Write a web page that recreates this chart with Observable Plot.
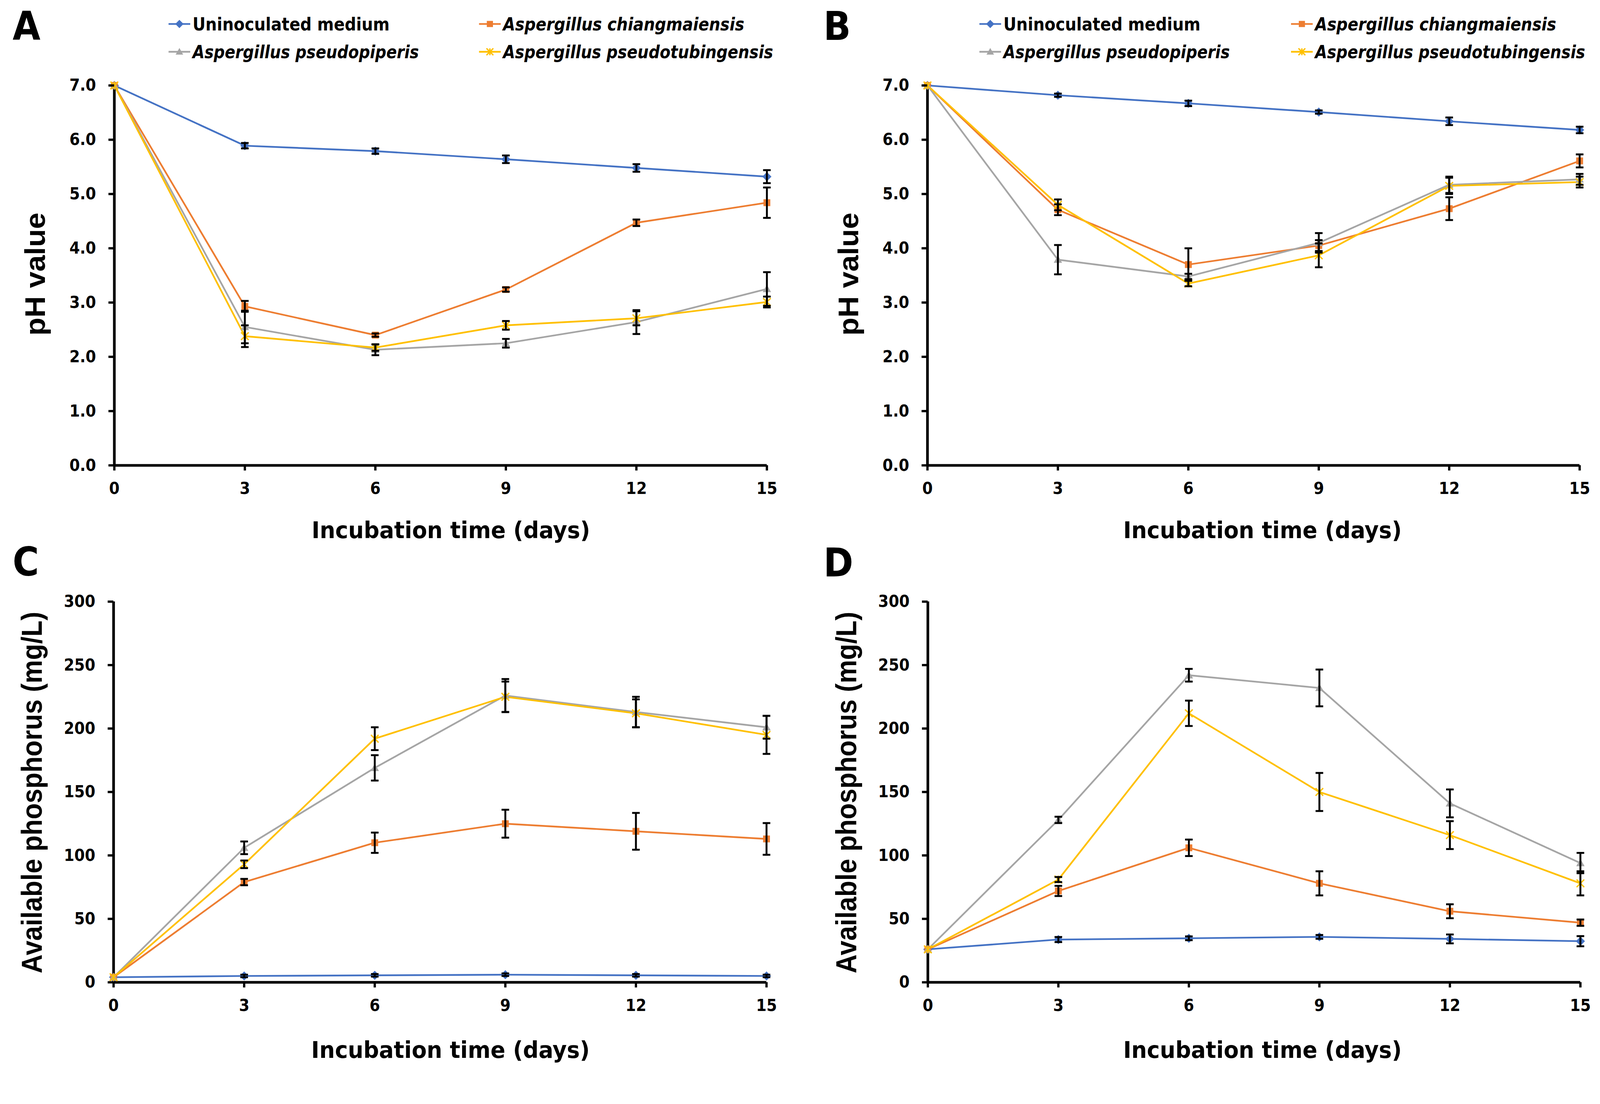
<!DOCTYPE html>
<html><head><meta charset="utf-8">
<script src="https://cdn.jsdelivr.net/npm/d3@7"></script>
<script src="https://cdn.jsdelivr.net/npm/@observablehq/plot@0.6"></script>
<style>
html,body{margin:0;padding:0;background:#fff;overflow:hidden;}
#fig{position:relative;width:4205px;height:2825px;overflow:hidden;background:#fff;transform-origin:0 0;}
.panel{position:absolute;}
#overlay{position:absolute;left:0;top:0;pointer-events:none;}
</style></head><body><div id="fig"></div>
<script>
// ---------- data ----------
const days = [0, 3, 6, 9, 12, 15];
const seriesNames = ["Uninoculated medium", "Aspergillus chiangmaiensis", "Aspergillus pseudopiperis", "Aspergillus pseudotubingensis"];
const seriesColors = ["#4472C4", "#ED7D31", "#A5A5A5", "#FFC000"];
const phTicks = [0, 1, 2, 3, 4, 5, 6, 7];
const pTicks = [0, 50, 100, 150, 200, 250, 300];
const xLabel = "Incubation time (days)";
const yLabelPH = "pH value";
const yLabelP = "Available phosphorus (mg/L)";

// Panel A: pH
const aUnin = [7.0, 5.89, 5.79, 5.64, 5.48, 5.32];
const aUninErr = [0, 0.05, 0.05, 0.07, 0.07, 0.12];
const aChiang = [7.0, 2.93, 2.40, 3.24, 4.47, 4.84];
const aChiangErr = [0, 0.10, 0.03, 0.04, 0.06, 0.28];
const aPiper = [7.0, 2.55, 2.13, 2.25, 2.64, 3.25];
const aPiperErr = [0, 0.30, 0.10, 0.08, 0.22, 0.31];
const aTubing = [7.0, 2.38, 2.17, 2.58, 2.71, 3.01];
const aTubingErr = [0, 0.20, 0.06, 0.08, 0.13, 0.10];

// Panel B: pH
const bUnin = [7.0, 6.82, 6.67, 6.51, 6.34, 6.18];
const bUninErr = [0, 0.03, 0.05, 0.03, 0.07, 0.06];
const bChiang = [7.0, 4.71, 3.70, 4.05, 4.73, 5.61];
const bChiangErr = [0, 0.10, 0.30, 0.10, 0.21, 0.12];
const bPiper = [7.0, 3.79, 3.48, 4.10, 5.17, 5.27];
const bPiperErr = [0, 0.27, 0.05, 0.18, 0.15, 0.10];
const bTubing = [7.0, 4.80, 3.35, 3.87, 5.15, 5.22];
const bTubingErr = [0, 0.10, 0.05, 0.22, 0.15, 0.10];

// Panel C: available phosphorus
const cUnin = [4, 5, 5.5, 6, 5.5, 5];
const cUninErr = [0, 1, 1, 1, 1, 1];
const cChiang = [4, 79, 110, 125, 119, 113];
const cChiangErr = [0, 2.5, 8, 11, 14.5, 12.5];
const cPiper = [4, 106, 169, 226, 213, 201];
const cPiperErr = [0, 5, 10, 13, 12, 9];
const cTubing = [4, 93, 192, 225, 212, 195];
const cTubingErr = [0, 3, 9, 12, 11, 15];

// Panel D: available phosphorus
const dUnin = [26, 33.7, 34.7, 35.8, 34.2, 32.4];
const dUninErr = [0, 2, 1.5, 1.5, 3.5, 4];
const dChiang = [26, 72, 106, 78, 56, 47];
const dChiangErr = [0, 4, 6.5, 9.5, 5.5, 2.5];
const dPiper = [26, 128, 242, 232, 141, 94];
const dPiperErr = [0, 2.5, 5, 14.5, 11, 8];
const dTubing = [26, 81, 212, 150, 116, 78];
const dTubingErr = [0, 2, 10, 15, 11, 9.5];

// ---------- styling ----------
const condFont = '"DejaVu Sans Condensed", "Liberation Sans Narrow", "DejaVu Sans", sans-serif';
const wideFont = '"Liberation Sans", Arial, sans-serif';

const diamondSym = {draw(ctx, size) {const r = Math.sqrt(size / Math.PI) * 1.2; ctx.moveTo(0, -r); ctx.lineTo(r, 0); ctx.lineTo(0, r); ctx.lineTo(-r, 0); ctx.closePath();}};
const squareSym = {draw(ctx, size) {const r = Math.sqrt(size / Math.PI) * 0.9; ctx.rect(-r, -r, 2 * r, 2 * r);}};
const triSym = {draw(ctx, size) {const r = Math.sqrt(size / Math.PI) * 1.1; ctx.moveTo(0, -r); ctx.lineTo(r, r * 0.75); ctx.lineTo(-r, r * 0.75); ctx.closePath();}};
const starSym = {draw(ctx, size) {const r = Math.sqrt(size / Math.PI); ctx.moveTo(-r, -r); ctx.lineTo(r, r); ctx.moveTo(-r, r); ctx.lineTo(r, -r); ctx.moveTo(0, -r); ctx.lineTo(0, r);}};
const capSym = {draw(ctx, size) {const r = Math.sqrt(size / Math.PI); ctx.moveTo(-r, 0); ctx.lineTo(r, 0);}};
const symbols = [diamondSym, squareSym, triSym, starSym];

function makeRows(vals, errs, s) {
  return days.map((d, j) => ({day: d, v: vals[j], e: errs[j], s}));
}

function panel(cfg) {
  const series = cfg.series.map((p, i) => makeRows(p[0], p[1], i));
  const marks = [
    Plot.ruleY([0], {stroke: "black", strokeWidth: 7}),
    Plot.ruleX([0], {stroke: "black", strokeWidth: 7})
  ];
  series.forEach((rows, i) => {
    marks.push(Plot.line(rows, {x: "day", y: "v", stroke: seriesColors[i], strokeWidth: 4.5}));
  });
  series.forEach((rows, i) => {
    if (i === 3) marks.push(Plot.dot(rows, {x: "day", y: "v", symbol: symbols[i], r: 10, fill: "none", stroke: seriesColors[i], strokeWidth: 3.5}));
    else marks.push(Plot.dot(rows, {x: "day", y: "v", symbol: symbols[i], r: 10, fill: seriesColors[i], stroke: "none"}));
  });
  series.forEach((rows) => {
    const er = rows.filter(d => d.e > 0);
    marks.push(Plot.ruleX(er, {x: "day", y1: d => d.v - d.e, y2: d => d.v + d.e, stroke: "black", strokeWidth: 5}));
    marks.push(Plot.dot(er, {x: "day", y: d => d.v + d.e, symbol: capSym, r: 10, fill: "none", stroke: "black", strokeWidth: 5}));
    marks.push(Plot.dot(er, {x: "day", y: d => d.v - d.e, symbol: capSym, r: 10, fill: "none", stroke: "black", strokeWidth: 5}));
  });
  marks.push(Plot.axisX({ticks: days, tickFormat: d => String(d), tickSize: 14, tickPadding: 30, strokeWidth: 6, label: null}));
  marks.push(Plot.axisY({ticks: cfg.yTicks, tickFormat: cfg.yFmt, tickSize: 15, tickPadding: 33, strokeWidth: 6, label: null}));

  const svg = Plot.plot({
    width: cfg.width, height: cfg.height,
    marginLeft: cfg.mL, marginRight: cfg.mR, marginTop: cfg.mT, marginBottom: cfg.mB,
    x: {domain: [0, 15]},
    y: {domain: [0, cfg.yMax]},
    style: {fontFamily: condFont, fontSize: "44px", fontWeight: "bold", color: "black", background: "white", overflow: "visible", fontStretch: "condensed"},
    marks
  });
  const s = d3.select(svg);
  s.append("text")
    .attr("x", cfg.ylx).attr("y", cfg.lyc)
    .attr("transform", `rotate(-90, ${cfg.ylx}, ${cfg.lyc})`)
    .attr("text-anchor", "middle")
    .attr("font-family", wideFont).attr("font-weight", "bold")
    .attr("font-size", cfg.ylSize)
    .attr("textLength", cfg.ylLen).attr("lengthAdjust", "spacingAndGlyphs")
    .attr("fill", "black")
    .text(cfg.ylabel);
  s.append("text")
    .attr("x", cfg.xlx).attr("y", cfg.xly)
    .attr("text-anchor", "middle")
    .attr("font-family", condFont).attr("font-weight", "bold").attr("font-stretch", "condensed")
    .attr("font-size", 60)
    .attr("textLength", 732).attr("lengthAdjust", "spacingAndGlyphs")
    .attr("fill", "black")
    .text(xLabel);
  const wrap = document.createElement("div");
  wrap.className = "panel";
  wrap.style.left = cfg.left + "px";
  wrap.style.top = cfg.top + "px";
  wrap.style.width = cfg.width + "px";
  wrap.style.height = cfg.height + "px";
  wrap.appendChild(svg);
  document.getElementById("fig").appendChild(wrap);
}

const f1 = d => d.toFixed(1);
const f0 = d => String(d);

panel({series: [[aUnin, aUninErr], [aChiang, aChiangErr], [aPiper, aPiperErr], [aTubing, aTubingErr]],
  left: 0, top: 170, width: 2100, height: 1300, mL: 300, mR: 85, mT: 54, mB: 248,
  yMax: 7, yTicks: phTicks, yFmt: f1, ylabel: yLabelPH, ylSize: 74, ylLen: 323, ylx: 118, lyc: 550, xlx: 1185, xly: 1244});
panel({series: [[bUnin, bUninErr], [bChiang, bChiangErr], [bPiper, bPiperErr], [bTubing, bTubingErr]],
  left: 2100, top: 170, width: 2105, height: 1300, mL: 337, mR: 54, mT: 54, mB: 248,
  yMax: 7, yTicks: phTicks, yFmt: f1, ylabel: yLabelPH, ylSize: 74, ylLen: 323, ylx: 155, lyc: 550, xlx: 1218, xly: 1244});
panel({series: [[cUnin, cUninErr], [cChiang, cChiangErr], [cPiper, cPiperErr], [cTubing, cTubingErr]],
  left: 0, top: 1530, width: 2100, height: 1295, mL: 298, mR: 86, mT: 50, mB: 245,
  yMax: 300, yTicks: pTicks, yFmt: f0, ylabel: yLabelP, ylSize: 77, ylLen: 950, ylx: 110, lyc: 552, xlx: 1184, xly: 1249});
panel({series: [[dUnin, dUninErr], [dChiang, dChiangErr], [dPiper, dPiperErr], [dTubing, dTubingErr]],
  left: 2100, top: 1530, width: 2105, height: 1295, mL: 338, mR: 52, mT: 50, mB: 245,
  yMax: 300, yTicks: pTicks, yFmt: f0, ylabel: yLabelP, ylSize: 77, ylLen: 950, ylx: 150, lyc: 552, xlx: 1218, xly: 1249});

// ---------- legends and panel letters (overlay) ----------
const ov = d3.select("#fig").append("svg").attr("id", "overlay").attr("width", 4205).attr("height", 2825);
const panelLetters = ["A", "B", "C", "D"];
const letterPos = [[33, 105], [2164, 105], [33, 1512], [2164, 1514]];
panelLetters.forEach((t, i) => {
  ov.append("text").attr("x", letterPos[i][0]).attr("y", letterPos[i][1])
    .attr("font-family", condFont).attr("font-weight", "bold").attr("font-stretch", "condensed")
    .attr("font-size", 105).attr("fill", "black").text(t);
});
const legendLens = [518, 634, 595, 710];
function legend(col1, col2) {
  const order = [0, 2, 1, 3];
  const rowsY = [63, 136];
  order.forEach((si, k) => {
    const c = k < 2 ? col1 : col2;
    const y = rowsY[k % 2];
    ov.append("line").attr("x1", c).attr("x2", c + 57).attr("y1", y).attr("y2", y)
      .attr("stroke", seriesColors[si]).attr("stroke-width", 4.5);
    const path = d3.path();
    const size = Math.PI * 81;
    symbols[si].draw(path, size);
    const p = ov.append("path").attr("d", path.toString()).attr("transform", `translate(${c + 28.5},${y})`);
    if (si === 3) p.attr("fill", "none").attr("stroke", seriesColors[si]).attr("stroke-width", 3.5);
    else p.attr("fill", seriesColors[si]);
    ov.append("text").attr("x", c + 63).attr("y", y + 17)
      .attr("font-family", condFont).attr("font-weight", "bold").attr("font-stretch", "condensed")
      .attr("font-style", si === 0 ? "normal" : "italic")
      .attr("font-size", 48).attr("fill", "black")
      .attr("textLength", legendLens[si]).attr("lengthAdjust", "spacingAndGlyphs")
      .text(seriesNames[si]);
  });
}
legend(443, 1259);
legend(2574, 3393);

// fit the 4205x2825 figure into the actual viewport
function fit() {
  const s = Math.min(window.innerWidth / 4205, window.innerHeight / 2825);
  document.getElementById("fig").style.transform = s < 0.999 ? `scale(${s})` : "none";
}
fit();
window.addEventListener("resize", fit);
</script></body></html>
